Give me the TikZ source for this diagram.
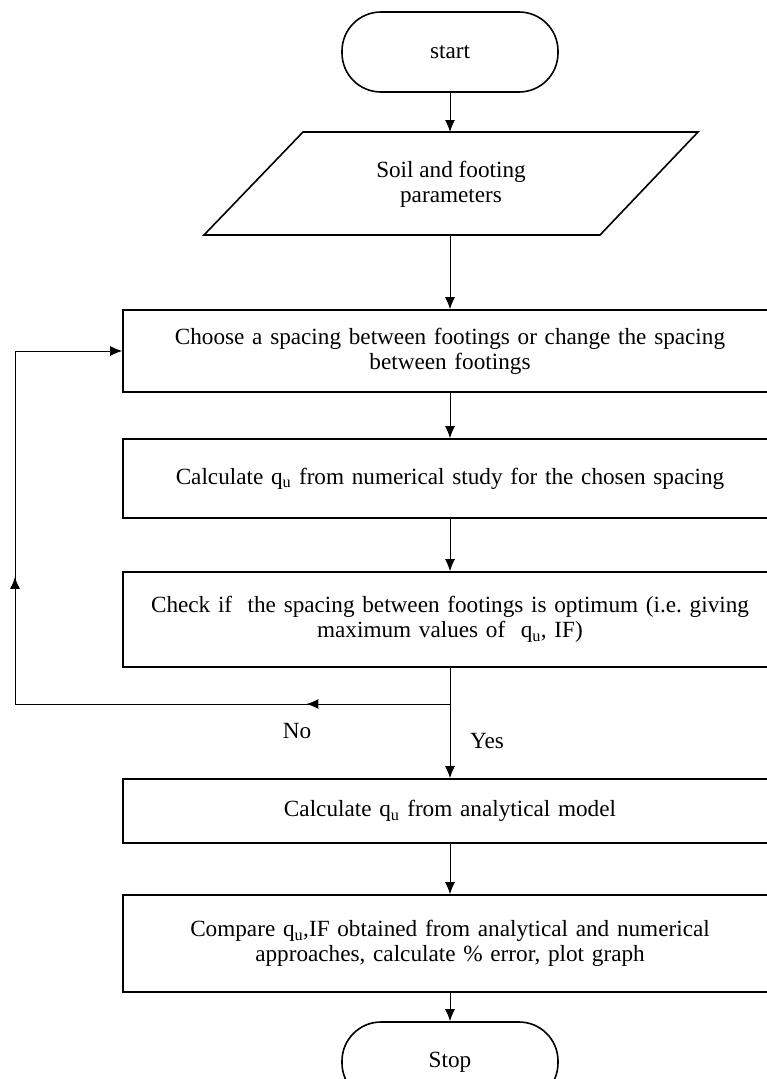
\documentclass[tikz,border=0pt]{standalone}
\usepackage{fontspec}
\setmainfont{Liberation Serif}
\usetikzlibrary{arrows.meta,decorations.markings}

\tikzset{
    every node/.style={font=\fontsize{23.2}{25}\selectfont},
    flow/.style={line width=1pt},
    arr/.style={flow, -{Latex[length=12pt,width=10pt]}},
    stepbox/.style={draw, line width=1.6pt, minimum width=654pt, text width=640pt, align=center, inner sep=0pt},
    term/.style={draw, line width=1.6pt, rounded corners=39pt, minimum width=216pt, minimum height=80pt},
    midarrow/.style={postaction={decorate}, decoration={markings, mark=at position #1 with {\arrow{Latex[length=12pt,width=10pt]}}}},
}

\begin{document}
\begin{tikzpicture}[x=1pt, y=-1pt]
    % Page frame
    \useasboundingbox (0,0) rectangle (767,1079);
    \clip (0,0) rectangle (767,1079);

    % Start and input
    \node[term] (start) at (450,52) {start};
    \node[align=center] (soil) at (451,184) {Soil and footing\\parameters};
    \draw[line width=1.6pt] (303,132) -- (698,132) -- (600,235) -- (204,235) -- cycle;
    \coordinate (soiltop) at (450,132);
    \coordinate (soilbot) at (450,235);

    % Steps
    \node[stepbox, minimum height=82pt] (choose) at (450,351) {Choose a spacing between footings or change the spacing\\between footings};
    \node[stepbox, minimum height=79pt] (numeric) at (450,478.5) {Calculate q\textsubscript{u} from numerical study for the chosen spacing};
    \node[stepbox, minimum height=95pt] (check) at (450,619.5) {Check if\ \ the spacing between footings is optimum (i.e.\ giving\\maximum values of\ \ q\textsubscript{u}, IF)};
    \node[stepbox, minimum height=64pt] (analytic) at (450,811) {Calculate q\textsubscript{u} from analytical model};
    \node[stepbox, minimum height=97pt] (compare) at (450,943.5) {Compare q\textsubscript{u},IF obtained from analytical and numerical\\approaches, calculate \% error, plot graph};
    \node[term] (stop) at (450,1062) {Stop};

    % Connectors
    \draw[arr] (start) -- (soiltop);
    \draw[arr] (soilbot) -- (choose);
    \draw[arr] (choose) -- (numeric);
    \draw[arr] (numeric) -- (check);
    \draw[arr] (check) -- (analytic);
    \draw[arr] (analytic) -- (compare);
    \draw[arr] (compare) -- (stop);

    % Loop back when not optimum
    \coordinate (fork) at (450,704);
    \coordinate (loopdown) at (15,704);
    \coordinate (loopup) at (15,351);
    \draw[flow, midarrow=0.33] (fork) -- (loopdown);
    \draw[flow, midarrow=0.36] (loopdown) -- (loopup);
    \draw[arr] (loopup) -- (choose.west);

    \node (no) at (297,731) {No};
    \node (yes) at (487,741) {Yes};
\end{tikzpicture}
\end{document}
